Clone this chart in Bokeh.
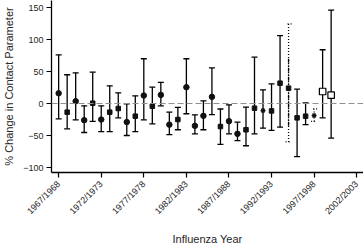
import math
from bokeh.plotting import figure
from bokeh.models import Whisker, TeeHead, ColumnDataSource, Span, FixedTicker
from bokeh.embed import file_html
from bokeh.resources import INLINE

# ---- data ----
years = list(range(1967, 2000))
estimate = [16, -13.5, 3.6, -26, 0.5, -25, -13.5, -7.8, -29, -19.8,
            12.5, -4.2, 13.5, -33, -25, 25.5, -34.9, -19.3, 10.4, -36,
            -27.6, -47.4, -41, -7.3, -11, -11.5, 31.8, 24, -22.4, -19.8,
            -18.8, 18.8, 13]
upper = [76, 45, 48, -3.6, 49, -3.6, 27.6, 16.7, -0.5, 12,
         70, 25.5, 33, -13.5, -6, 70, -17.7, 4, 55.7, -8.6,
         -2, -29, -5.5, 72.4, 21.4, 30.7, 106, 124.5, 22.4, 1,
         -8.3, 84, 146]
lower = [-24, -39.6, -25.5, -45.3, -28, -43.8, -43.8, -22.4, -50, -43.8,
         -25.5, -31.8, -3.6, -48.5, -41, -16, -47.4, -41, -17.5, -64,
         -47.4, -58, -66, -47.4, -38.5, -42, -37, -60, -83, -33,
         -28, -22.4, -54]
marker_kind = ["circle", "square", "circle", "circle", "square", "circle", "square",
               "square", "circle", "square", "circle", "square", "circle", "circle",
               "square", "circle", "circle", "circle", "circle", "square", "circle",
               "circle", "square", "square", "asterisk", "square", "square", "square",
               "square", "square", "asterisk", "open", "open"]
whisker_kind = ["solid"] * 27 + ["dotted"] + ["solid"] * 2 + ["dotted"] + ["solid"] * 2
inner_1994 = (70, -38)  # dash-dot inner segment of the 1994 interval

tick_years = [1967, 1972, 1977, 1982, 1987, 1992, 1997, 2002]
tick_labels = ["%d/%d" % (y, y + 1) for y in tick_years]
y_ticks = [-100, -50, 0, 50, 100, 150]

FONT = "Liberation Sans"
TXT = "#262626"

p = figure(width=363, height=249, output_backend="svg", toolbar_location=None,
           x_range=(1966.16, 2002.8), y_range=(-107.8, 161),
           min_border_left=46, min_border_right=0, min_border_top=0,
           min_border_bottom=77)
p.outline_line_color = None
p.grid.visible = False
p.background_fill_color = "white"
p.border_fill_color = "white"

# zero reference line
p.add_layout(Span(location=0, dimension="width", line_color="#8f8f8f",
                  line_width=1.2, line_dash="6 3"))

# error bars
for style in ["solid", "dotted"]:
    idx = [i for i, w in enumerate(whisker_kind) if w == style]
    src = ColumnDataSource(dict(x=[years[i] for i in idx],
                                up=[upper[i] for i in idx],
                                lo=[lower[i] for i in idx]))
    dash = "solid" if style == "solid" else "1 2"
    w = Whisker(source=src, base="x", upper="up", lower="lo", dimension="height",
                line_color="black", line_width=1.3, line_dash=dash,
                upper_head=TeeHead(size=6, line_color="black", line_width=1.3, line_dash=dash),
                lower_head=TeeHead(size=6, line_color="black", line_width=1.3, line_dash=dash))
    p.add_layout(w)

# inner dash-dot part of the 1994 bar
i94 = years.index(1994)
p.segment(x0=[years[i94]], x1=[years[i94]], y0=[inner_1994[0]], y1=[inner_1994[1]],
          line_color="black", line_width=1.3, line_dash="4 2 1 2")

def pick(kind):
    idx = [i for i, m in enumerate(marker_kind) if m == kind]
    return [years[i] for i in idx], [estimate[i] for i in idx]

x, y = pick("circle")
p.scatter(x, y, marker="circle", size=5.5, fill_color="#111111", line_color="#111111")
x, y = pick("square")
p.scatter(x, y, marker="square", size=4.5, fill_color="#111111", line_color="#111111")
x, y = pick("asterisk")
p.scatter(x, y, marker="asterisk", size=5, line_color="#111111", line_width=1.2)
x, y = pick("open")
p.scatter(x, y, marker="square", size=6.5, fill_color="white", line_color="black",
          line_width=1.2)

# axes
xa = p.xaxis[0]
xa.ticker = FixedTicker(ticks=tick_years)
xa.major_label_overrides = {t: l for t, l in zip(tick_years, tick_labels)}
xa.major_label_orientation = math.pi / 4
ya = p.yaxis[0]
ya.ticker = FixedTicker(ticks=y_ticks)
ya.major_label_overrides = {t: (str(t).replace("-", "\u2212")) for t in y_ticks}

for ax in (xa, ya):
    ax.axis_line_color = "black"
    ax.axis_line_width = 1.3
    ax.major_tick_line_color = "black"
    ax.major_tick_line_width = 1.2
    ax.major_tick_out = 5
    ax.major_tick_in = 0
    ax.minor_tick_line_color = None
    ax.major_label_text_font = FONT
    ax.major_label_text_font_size = "9px"
    ax.major_label_text_color = TXT
    ax.axis_label_text_font = FONT
    ax.axis_label_text_font_size = "11px"
    ax.axis_label_text_font_style = "normal"
    ax.axis_label_text_color = TXT

xa.axis_label = "Influenza Year"
ya.axis_label = "% Change in Contact Parameter"
xa.major_label_standoff = 5
ya.major_label_standoff = 3
xa.axis_label_standoff = 10
ya.axis_label_standoff = 5

open("out.html", "w").write(file_html(p, INLINE))
